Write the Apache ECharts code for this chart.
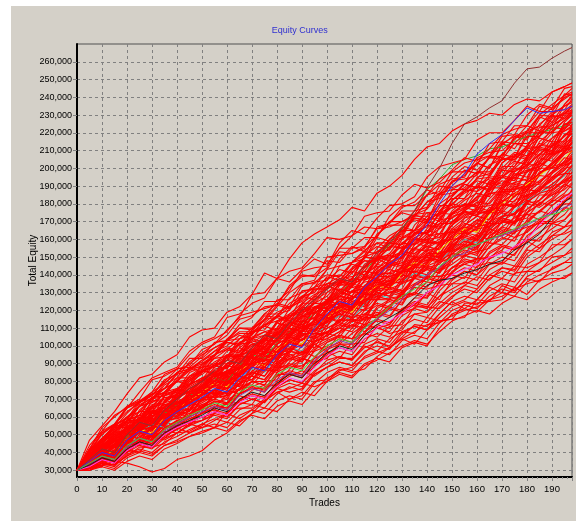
<!DOCTYPE html>
<html><head><meta charset="utf-8">
<script src="https://cdn.jsdelivr.net/npm/echarts@6/dist/echarts.min.js"></script>
<style>
html,body{margin:0;padding:0;background:#fff;width:576px;height:521px;overflow:hidden;}
#c{position:absolute;left:11px;top:6px;width:565px;height:515px;background:#d4d0c8;}
</style></head>
<body><div id="c"></div>
<script>
// trade numbers at which equity is sampled
const trades = [0,5,10,15,20,25,30,35,40,45,50,55,60,65,70,75,80,85,90,95,100,105,110,115,120,125,130,135,140,145,150,155,160,165,170,175,180,185,190,195,198];
const xTickLabels = [0,10,20,30,40,50,60,70,80,90,100,110,120,130,140,150,160,170,180,190];
const yTickValues = [30000,40000,50000,60000,70000,80000,90000,100000,110000,120000,130000,140000,150000,160000,170000,180000,190000,200000,210000,220000,230000,240000,250000,260000];

// equity in thousands, one row per simulated curve (red), first group
const redCurves = [
[30,38,44,53,57,66,69,78,82,91,96,101,109,116,129,141,138,149,158,163,167,171,178,176,186,190,196,205,212,214,221,225,227,231,230,236,239,238,243,246,248],
[30,47,55,63,73,82,84,91,95,105,109,110,119,122,129,130,138,136,143,149,146,155,162,167,166,169,178,181,188,185,195,201,199,206,207,217,220,220,230,228,232],
[30,41,51,55,65,68,72,80,87,88,94,102,103,112,116,125,125,131,142,144,145,158,165,163,172,179,180,184,195,201,203,205,216,220,220,227,235,232,243,246,248],
[30,42,54,60,66,70,81,83,87,95,101,104,108,117,119,121,123,133,139,140,148,147,155,161,161,173,179,179,185,187,198,203,205,207,218,219,230,236,234,245,246],
[30,41,47,54,58,68,73,76,84,86,89,95,104,110,110,114,122,130,135,135,143,153,152,155,167,169,176,176,185,194,198,198,202,214,215,224,224,232,232,241,243],
[30,42,52,56,66,69,74,84,87,89,98,101,106,115,117,122,123,134,140,139,144,155,155,156,162,170,175,173,181,183,193,194,196,207,206,218,221,224,232,233,239],
[30,38,47,54,58,61,71,74,82,82,87,95,98,104,106,115,116,127,130,133,143,145,147,151,163,168,168,176,178,190,189,192,203,207,215,214,221,230,229,242,241],
[30,39,47,51,60,63,66,74,80,81,86,93,94,104,108,117,116,122,134,136,137,149,156,153,162,170,170,174,185,191,194,195,206,209,210,216,224,221,231,235,237],
[30,42,47,54,62,69,70,79,85,87,91,97,103,104,110,118,124,122,125,132,132,145,147,149,161,159,162,174,177,185,186,189,197,206,205,214,214,218,229,230,235],
[30,37,46,50,58,58,65,71,71,78,85,89,92,95,104,112,114,116,123,133,135,136,147,153,152,160,163,174,175,176,184,192,198,198,205,206,218,218,228,231,233],
[30,40,47,56,59,66,73,73,80,88,88,95,102,101,109,115,123,121,126,136,140,139,147,154,158,158,161,173,173,179,179,187,194,195,206,204,213,220,220,231,231],
[30,37,43,50,52,59,66,67,69,77,81,83,94,95,100,103,114,118,119,127,135,135,138,150,153,154,164,172,171,175,184,191,189,196,205,207,210,221,220,227,230],
[30,41,47,52,60,66,68,73,75,85,88,89,97,101,108,109,117,114,122,128,126,135,143,148,148,152,161,165,173,170,182,188,187,195,196,207,212,212,223,222,228],
[30,37,47,52,56,59,69,70,73,81,86,89,93,102,105,108,110,121,128,130,139,137,144,150,149,160,165,165,171,172,182,187,189,190,201,201,212,217,215,225,226],
[30,42,48,55,59,69,73,76,85,87,90,95,103,108,108,111,117,124,128,126,133,138,139,142,153,158,157,163,164,175,174,177,187,191,199,198,204,213,212,225,224],
[30,38,41,47,54,60,60,68,73,74,77,84,90,91,97,106,113,111,116,124,124,136,142,140,148,156,155,159,170,175,178,179,191,194,195,201,210,207,217,221,223],
[30,39,47,49,58,61,65,74,76,78,86,88,92,101,102,106,106,116,122,120,125,136,135,138,150,151,158,157,166,174,178,179,182,193,195,203,203,211,210,219,221],
[30,37,41,45,52,58,58,63,64,73,76,78,86,90,97,99,108,106,115,122,121,134,135,138,149,146,150,161,164,171,172,176,183,193,191,200,200,204,215,215,220],
[30,38,43,51,53,59,67,68,70,78,82,84,95,95,101,103,114,117,118,125,134,131,138,145,149,149,152,164,163,169,169,177,184,185,195,193,201,208,208,219,219],
[30,35,43,47,54,54,60,66,66,73,79,83,85,88,96,104,105,106,113,122,123,129,136,142,141,145,154,158,165,163,174,180,179,186,187,198,202,202,213,211,217],
[30,38,48,53,58,61,71,72,75,83,88,90,94,102,104,106,108,118,124,124,132,137,137,138,143,151,156,154,162,163,173,175,176,186,185,196,199,201,209,210,215],
[30,35,39,47,48,54,60,60,65,72,72,78,85,84,91,97,105,103,108,119,122,124,126,137,140,141,151,158,156,160,168,176,173,181,189,192,194,206,204,212,214],
[30,35,44,50,53,56,65,68,75,74,80,87,88,93,94,103,103,113,114,116,126,123,134,139,138,146,148,160,160,161,168,176,181,180,188,188,199,199,208,210,212],
[30,38,42,48,51,59,63,65,73,74,76,82,90,95,96,99,107,114,118,118,125,127,134,139,138,149,153,152,158,158,168,174,175,176,187,187,198,203,200,210,211],
[30,38,41,48,50,55,63,63,69,69,78,80,86,87,96,97,104,110,108,114,121,122,131,132,134,145,147,149,158,158,160,172,174,176,187,184,193,200,200,208,210],
[30,36,45,52,57,59,63,72,74,79,81,90,90,95,97,106,105,111,119,122,119,132,130,133,141,147,152,150,157,163,164,167,178,179,181,190,188,198,200,202,207],
[30,32,40,43,50,51,53,61,62,70,69,75,79,86,85,94,95,98,110,112,113,123,122,129,137,135,142,150,150,158,166,164,170,178,177,188,190,191,201,203,206],
[30,39,43,46,53,59,66,65,71,74,81,80,89,92,97,98,107,108,110,114,124,121,131,136,137,139,142,154,154,155,164,169,167,176,182,181,193,192,198,206,205],
[30,36,43,43,50,57,58,60,68,70,75,75,85,88,90,96,103,102,105,115,120,121,128,127,139,139,141,150,148,156,164,163,169,177,176,185,187,196,195,201,204],
[30,35,40,49,52,53,62,67,67,73,76,84,83,88,93,96,97,105,111,109,111,120,121,130,128,136,142,142,152,152,154,165,167,169,180,179,188,187,197,202,203],
[30,33,38,44,43,53,54,56,63,69,65,72,80,83,81,88,97,97,104,105,116,113,122,129,129,135,142,144,151,150,159,162,166,175,175,182,185,188,194,200,201],
[30,38,44,47,57,57,69,69,76,74,80,88,94,94,94,105,106,113,112,116,126,126,127,131,141,141,144,146,155,159,160,161,167,176,179,180,185,187,195,197,201],
[30,34,40,47,47,54,53,61,61,71,74,73,76,83,91,90,95,96,106,109,107,116,123,126,126,133,139,146,145,148,156,163,166,167,172,179,183,189,189,197,197],
[30,36,41,44,55,52,60,65,65,67,78,79,80,85,95,98,96,105,108,115,111,124,123,124,133,135,136,144,145,153,153,158,163,165,173,174,181,186,188,193,196],
[30,31,37,43,46,47,50,58,59,64,64,73,74,79,81,90,89,96,104,107,105,114,115,121,131,132,135,138,147,152,154,155,161,170,173,174,180,182,190,192,196],
[30,36,44,48,55,55,63,63,72,74,77,85,84,90,95,96,104,105,114,112,117,119,127,132,132,133,142,145,151,150,155,164,160,169,169,178,182,179,187,193,193],
[30,35,38,43,45,53,54,62,60,66,70,70,79,81,83,92,90,97,96,106,107,115,114,117,126,133,131,138,139,148,152,151,162,163,170,169,175,185,185,188,192],
[30,35,41,44,51,53,56,63,68,68,73,78,78,85,88,95,93,97,107,107,107,111,121,126,128,130,132,144,144,146,154,159,156,164,170,168,180,178,183,191,189],
[30,31,37,40,46,45,50,55,54,61,66,68,70,73,80,87,88,89,94,103,104,108,115,114,126,126,128,138,136,144,152,150,156,164,162,170,172,181,179,184,187],
[30,34,43,46,50,52,62,61,64,71,76,77,81,89,90,92,93,103,108,109,116,114,122,126,126,127,136,138,144,142,148,156,153,161,162,170,174,171,179,185,185],
[30,31,38,43,45,46,55,57,63,62,66,72,74,78,78,86,86,95,96,97,107,105,114,115,117,127,128,130,139,139,141,151,153,155,164,161,169,176,174,182,183],
[30,31,36,37,43,44,47,54,55,55,63,64,68,76,77,80,81,91,97,94,99,102,110,116,116,122,129,129,136,135,144,146,149,158,157,164,167,169,175,180,180],
[30,36,38,45,46,51,59,59,64,64,73,74,79,79,88,88,94,99,96,102,108,110,116,118,117,123,127,133,132,134,141,147,149,150,154,161,164,170,170,178,177],
[30,34,37,39,44,48,55,53,58,61,67,65,73,75,80,80,88,88,89,93,102,105,104,107,115,122,120,127,127,136,140,138,149,149,156,154,160,169,169,171,175],
[30,30,32,40,41,40,48,52,51,56,58,66,65,69,75,78,78,87,93,91,93,101,107,112,110,112,121,123,130,126,137,142,140,146,147,156,160,159,169,167,171],
[30,33,38,40,51,47,54,60,59,61,71,71,72,76,85,87,85,93,95,101,97,107,112,108,115,121,119,121,130,134,135,135,145,147,146,152,159,155,164,167,168],
[30,30,33,33,42,40,50,48,54,51,55,62,68,68,67,77,78,85,83,88,97,93,102,107,105,111,112,122,122,121,127,134,139,137,144,143,154,153,162,163,165],
[30,31,37,39,45,44,51,50,58,59,62,69,68,73,76,76,84,84,93,90,95,101,101,102,111,107,109,118,119,125,123,126,132,140,138,145,144,147,157,157,160],
[30,30,34,33,38,43,43,45,51,52,56,54,63,65,65,70,76,74,76,84,88,91,89,96,103,99,105,112,111,118,125,121,126,133,130,141,142,142,150,151,153],
[30,32,34,38,40,46,49,50,57,57,58,62,68,72,70,72,78,83,86,83,88,93,93,100,97,104,108,107,116,114,115,124,124,125,134,131,138,136,144,147,147],
[30,32,33,35,34,32,29,31,36,38,41,47,51,57,62,69,74,76,79,77,80,86,88,93,96,99,104,108,112,113,117,120,122,126,128,132,135,137,141,143,146],
[30,32,35,41,41,45,49,47,51,56,54,58,62,59,64,69,74,70,72,80,81,87,85,87,94,99,104,101,109,114,115,116,126,125,126,133,129,137,138,138,141],
[30,44,52,61,65,74,82,85,88,97,102,105,116,118,124,127,138,142,144,152,161,160,162,173,175,176,185,191,189,192,199,206,204,211,219,222,224,235,233,240,242],
[30,40,51,56,65,69,72,81,84,93,93,99,103,110,109,118,118,120,131,132,133,135,143,150,149,155,161,162,168,167,175,178,180,189,189,196,198,201,207,211,212],
[30,34,42,49,53,54,57,66,68,73,74,84,85,91,94,103,103,111,120,124,123,136,136,140,150,158,157,165,167,178,183,183,195,197,205,205,212,223,224,228,232],
[30,38,45,54,54,63,63,71,72,83,86,85,88,95,103,101,106,107,117,119,116,128,127,128,133,140,144,141,148,149,157,157,157,166,163,173,174,175,182,181,185],
[30,35,39,44,47,54,56,64,62,68,73,73,84,87,91,101,101,109,111,122,125,130,138,137,150,150,153,164,163,171,180,178,184,192,190,199,201,210,208,214,217],
[30,40,47,55,55,67,70,72,81,88,85,94,103,107,107,115,126,126,135,137,150,151,152,156,166,167,170,173,181,186,188,188,194,202,205,205,211,212,220,221,224]
];

// second group of red curves (thousands)
const redCurvesB = [
[30,39,42,50,48,57,64,62,71,80,86,84,92,99,96,105,113,110,121,128,137,143,141,150,158,155,166,174,171,182,192,199,197,206,214,211,221,229,226,236,241],
[30,38,45,51,58,63,70,76,80,87,92,97,100,106,104,113,119,122,127,131,135,139,146,144,155,162,166,172,170,185,190,197,203,200,213,219,217,230,236,241,245],
[30,35,41,46,50,56,60,66,70,75,80,86,84,95,101,99,110,116,113,126,130,134,141,148,146,160,167,165,178,186,192,196,203,200,214,218,216,228,234,239,242],
[30,38,42,49,53,60,57,69,75,81,85,91,95,92,108,112,117,115,128,133,138,140,137,151,156,154,165,171,169,180,185,191,189,201,208,206,220,224,222,236,240],
[30,34,40,45,43,54,60,64,62,74,78,82,89,87,98,104,110,108,118,124,128,135,133,144,151,157,155,168,175,173,188,192,198,196,208,214,212,225,230,235,238],
[30,39,46,52,50,64,70,74,80,78,90,93,98,96,107,111,116,113,124,129,132,137,135,146,150,148,160,165,163,176,180,186,190,188,203,209,207,220,226,232,236],
[30,36,34,45,50,48,58,63,68,66,76,82,86,84,96,101,107,104,116,121,125,131,128,140,146,144,155,161,159,172,178,183,190,187,200,207,205,218,225,231,235],
[30,36,43,41,54,58,56,69,73,78,82,80,90,95,93,103,107,110,108,119,122,129,134,132,146,151,149,163,170,168,182,187,193,191,203,208,206,218,224,229,233],
[30,37,44,48,46,59,65,63,74,80,84,89,87,99,104,102,113,117,121,119,130,136,134,144,150,148,158,163,168,166,176,182,186,184,199,204,202,215,221,227,231],
[30,35,39,37,49,53,51,62,66,64,74,79,82,80,92,96,94,106,109,114,118,122,120,134,138,136,150,155,153,167,172,178,176,188,195,193,207,214,212,226,230],
[30,37,41,47,45,56,62,60,71,76,80,85,83,94,98,96,108,112,110,121,126,129,135,133,144,148,146,157,161,166,170,175,173,187,193,191,205,211,209,224,228],
[30,34,39,37,47,51,56,54,64,69,72,78,76,87,91,97,95,106,111,109,120,126,131,129,142,147,145,157,163,161,175,180,178,190,196,194,206,212,210,222,226],
[30,38,45,43,56,61,59,72,76,82,86,89,87,97,101,99,109,113,111,121,124,128,133,131,142,146,144,155,159,157,168,173,178,176,190,197,195,208,214,212,225],
[30,35,38,36,47,51,49,58,63,61,70,75,79,77,88,93,91,102,106,104,115,121,125,123,136,141,139,151,156,154,166,172,177,175,188,195,193,206,212,218,223],
[30,36,40,38,50,55,53,64,69,67,78,83,86,84,95,99,97,108,112,110,120,125,128,126,138,143,141,152,156,154,165,170,176,174,186,192,190,204,210,216,221],
[30,36,41,39,49,54,58,56,67,71,75,80,85,83,94,99,97,108,113,111,122,125,123,133,137,135,145,149,147,158,162,168,173,171,185,191,189,203,209,215,220],
[30,37,43,48,46,58,63,61,73,78,82,85,89,87,96,100,98,107,110,108,118,123,121,131,135,133,143,147,152,150,160,166,171,169,183,189,187,201,207,213,218],
[30,34,32,42,46,44,53,57,55,64,68,72,77,75,86,90,88,99,104,102,112,117,122,120,132,138,136,148,153,151,163,168,173,171,184,190,188,201,206,212,216],
[30,36,40,45,43,54,59,57,68,73,77,81,79,89,93,91,101,105,103,113,116,120,125,123,133,137,135,145,150,148,158,164,162,175,180,178,192,197,203,209,214],
[30,35,40,38,48,52,50,61,65,63,73,78,83,81,92,97,95,107,111,109,121,124,122,132,136,134,144,148,146,156,160,165,171,169,181,186,184,197,202,208,212],
[30,37,43,41,52,57,55,66,71,76,80,83,81,90,94,92,101,105,103,110,114,118,116,126,130,128,138,142,140,150,155,160,158,170,175,173,186,192,198,204,210],
[30,34,39,37,46,50,48,58,62,60,70,75,80,78,89,94,92,104,109,107,118,121,119,130,134,132,142,145,150,148,157,162,160,172,176,174,188,193,198,203,208],
[30,33,37,35,44,48,46,54,58,56,66,70,75,73,84,88,86,97,101,99,110,114,118,116,127,131,129,140,144,142,152,157,155,167,172,170,183,189,195,201,206],
[30,36,42,40,51,56,54,64,68,72,76,80,78,87,91,89,99,103,101,110,113,117,115,124,128,126,136,140,138,147,150,156,154,166,171,169,182,188,193,199,204],
[30,35,39,37,47,51,49,59,63,67,71,74,72,81,85,83,93,97,95,104,108,112,117,115,126,130,128,139,143,141,153,157,155,166,171,169,181,186,191,197,202],
[30,41,50,56,63,68,74,79,85,90,95,99,102,100,107,111,109,116,120,118,125,128,126,133,136,134,141,144,149,147,155,159,157,167,172,170,182,186,191,196,200],
[30,33,37,35,43,47,45,53,57,61,65,69,67,76,80,78,88,93,91,102,106,110,114,112,122,126,124,135,139,137,148,153,151,162,167,165,177,182,188,193,198],
[30,36,41,39,49,54,52,62,66,70,74,77,75,84,88,86,95,99,97,107,110,113,111,120,124,122,131,135,133,142,146,151,149,160,165,163,175,180,186,191,196],
[30,34,38,36,46,50,48,57,61,65,69,72,70,79,83,81,90,94,92,101,104,108,112,110,121,125,123,134,138,136,150,154,152,162,166,164,175,180,185,190,194],
[30,33,36,34,42,46,44,51,55,59,62,66,64,73,77,75,85,89,87,98,102,106,104,114,118,116,126,130,128,139,144,148,146,156,161,159,171,176,181,186,191],
[30,36,41,46,44,54,58,56,64,68,72,75,73,82,85,83,91,95,93,102,106,110,108,116,119,117,126,129,127,136,140,144,142,152,156,154,165,170,175,181,188],
[30,34,38,36,45,49,47,56,60,64,67,70,68,76,80,78,87,90,88,97,100,104,102,111,114,112,121,125,123,133,142,146,144,153,157,155,166,171,176,181,185],
[30,32,36,34,41,45,43,50,53,57,60,63,61,70,73,71,80,84,82,91,98,101,99,108,112,110,119,123,121,131,138,142,140,149,153,151,162,167,172,177,182],
[30,34,37,35,44,48,46,53,57,60,64,67,65,73,76,74,83,86,84,93,96,99,97,106,110,108,117,121,119,128,135,139,137,146,150,148,159,164,169,174,179],
[30,36,41,39,49,53,51,59,63,67,70,73,71,79,83,81,89,93,91,99,103,106,104,112,115,113,120,124,122,128,132,136,134,143,147,145,155,161,166,171,176],
[30,32,35,33,40,44,42,48,51,55,58,61,59,67,70,68,77,81,79,89,94,97,95,104,107,105,114,118,116,124,130,134,132,140,144,142,152,157,162,167,172],
[30,33,37,35,43,47,45,51,54,58,62,64,62,69,72,70,77,81,79,86,90,94,92,101,104,102,111,115,113,122,128,132,130,138,142,140,150,155,160,164,168],
[30,31,34,32,39,42,40,46,49,53,56,59,57,64,67,65,73,77,75,84,88,91,89,97,100,98,107,111,109,118,125,128,126,134,138,136,146,150,155,160,164],
[30,33,36,34,41,45,43,49,53,57,60,62,60,67,70,68,76,79,77,85,92,94,92,99,102,100,108,111,109,116,122,125,123,131,135,133,142,147,151,156,160],
[30,31,33,31,37,40,38,44,47,51,54,56,54,61,64,62,69,72,70,79,85,88,86,94,97,95,103,106,104,113,120,123,121,128,132,130,139,143,147,151,155],
[30,31,32,30,35,38,36,42,45,49,52,54,52,58,61,59,66,69,67,75,82,85,83,90,93,91,99,102,100,110,118,121,119,126,130,128,136,140,143,147,150],
[30,31,34,33,38,41,39,44,46,49,51,54,57,55,62,65,63,70,74,72,80,84,82,89,92,96,100,103,101,108,114,117,120,118,124,128,126,132,136,139,141],
[30,40,48,55,60,66,71,76,80,86,92,95,99,97,104,108,106,113,117,115,124,128,126,134,138,136,145,149,154,152,162,167,165,175,180,178,190,197,203,209,214],
[30,38,36,44,50,55,53,62,68,66,75,80,85,83,90,95,100,98,108,113,117,121,126,124,134,139,137,147,152,157,161,166,164,175,181,186,190,197,203,210,218],
[30,34,40,45,50,48,57,62,60,68,74,79,77,85,90,95,93,102,107,105,114,119,124,122,131,135,140,138,146,151,156,161,159,168,173,178,184,190,197,204,210],
[30,37,42,40,48,54,59,57,64,70,75,73,81,86,91,89,97,102,100,109,114,118,116,125,130,128,136,141,145,143,152,157,162,160,170,175,180,188,194,199,205],
[30,35,42,47,45,55,60,65,63,72,78,84,82,91,97,95,104,110,108,118,124,130,128,137,142,147,145,155,160,158,170,176,174,183,190,196,202,208,213,218,222],
[30,39,44,49,47,56,61,59,67,72,77,82,80,88,92,97,95,103,107,105,114,118,122,120,128,132,130,139,143,141,150,155,160,158,167,172,177,182,188,194,200],
[30,33,38,43,41,51,56,54,63,68,73,78,76,84,89,94,92,101,106,104,115,120,118,127,132,137,135,145,150,148,158,164,169,167,178,184,190,196,202,209,215],
[30,36,41,39,47,52,57,55,63,68,73,71,78,83,81,89,94,92,100,104,108,112,110,118,123,121,130,134,138,136,144,149,147,156,160,165,170,176,182,189,195],
[30,36,43,48,46,57,62,67,65,75,81,86,84,94,99,104,102,111,117,115,126,132,130,140,145,143,154,160,158,169,174,180,178,189,195,200,206,212,217,223,228]
];

// a few curves drawn in other colours
const colorNames = ['blue','greenUpper','purple','magenta','black','greenLower','cyan','yellow','brown'];
const colorValues = ['#3030f0','#30b030','#8040b0','#ff40ff','#202020','#40d040','#30d0d0','#f0f000','#903030'];
const colorCurves = [
[30,35,40,38,47,52,50,58,63,67,71,76,74,82,88,86,95,101,99,110,118,125,123,133,139,146,151,160,168,180,190,197,208,214,219,227,234,231,232,233,235],
[30,36,42,40,49,55,53,62,67,72,76,82,80,89,95,93,102,108,113,118,124,130,136,142,150,157,166,176,188,194,202,205,207,211,212,215,218,220,222,224,226],
[30,33,38,36,43,48,46,52,56,60,63,66,64,72,76,74,81,85,83,92,98,103,101,110,115,120,126,134,140,144,150,152,157,160,162,165,168,172,175,178,180],
[30,32,36,34,41,45,43,50,54,57,60,63,61,68,72,70,77,82,80,88,94,99,97,104,110,114,118,124,130,134,140,143,146,150,152,156,160,168,176,183,186],
[30,33,37,35,42,46,44,51,55,58,61,65,63,70,74,72,79,84,82,90,96,100,98,106,112,116,120,127,134,137,138,141,143,146,148,154,158,163,172,181,184],
[30,34,38,36,44,48,46,53,57,61,64,68,66,74,78,76,84,88,86,94,100,104,102,110,116,122,128,132,136,145,150,155,157,160,163,166,169,172,174,176,178],
[30,35,40,44,42,51,56,54,62,67,71,76,74,82,87,85,94,99,97,106,112,117,115,124,129,127,136,141,139,148,154,160,158,166,172,176,182,186,190,196,200],
[30,36,41,39,48,53,51,60,65,69,74,79,77,86,91,89,98,103,101,110,116,121,119,128,134,132,141,147,145,154,160,166,164,174,180,185,191,196,201,206,210],
[30,36,42,40,50,57,55,64,70,76,80,86,92,90,99,106,104,113,120,126,132,138,136,145,152,158,166,176,189,200,214,225,229,234,238,248,256,257,262,266,268]
];
// colours drawn between the two red groups, and colours drawn above all red
const midColorIdx = [1,6,7];
const topColorIdx = [0,2,3,4,5,8];

function fmt(v){ return String(v).replace(/\B(?=(\d{3})+(?!\d))/g, ','); }
function toPoints(curve){ return trades.map((t,i)=>[t, curve[i]*1000]); }

function redSeries(c,k,tag){ return {name:tag+k,type:'line',data:toPoints(c),symbol:'none',silent:true,lineStyle:{color:'#ff0000',width:1.1},z:3}; }
function colorSeries(k){ return {name:colorNames[k],type:'line',data:toPoints(colorCurves[k]),symbol:'none',silent:true,lineStyle:{color:colorValues[k],width:1},z:3}; }

const series = [];
redCurvesB.forEach((c,k)=>series.push(redSeries(c,k,'b')));
midColorIdx.forEach(k=>series.push(colorSeries(k)));
redCurves.forEach((c,k)=>series.push(redSeries(c,k,'a')));
topColorIdx.forEach(k=>series.push(colorSeries(k)));

const FONT = "'Liberation Sans',Arial,sans-serif";
const chart = echarts.init(document.getElementById('c'), null, {renderer:'canvas'});
chart.setOption({
  animation:false,
  backgroundColor:'transparent',
  title:{text:'Equity Curves',left:283.7,top:15,textAlign:'center',
    textStyle:{color:'#3030d0',fontSize:9,fontWeight:'normal',fontFamily:FONT}},
  grid:{left:66,top:38,right:4,bottom:44,show:true,borderColor:'#505050',borderWidth:1,
    backgroundColor:'transparent',containLabel:false,outerBoundsMode:'none'},
  xAxis:{type:'value',min:0,max:198,interval:10,
    name:'Trades',nameLocation:'middle',nameGap:21,nameMoveOverlap:false,
    nameTextStyle:{color:'#000',fontSize:10,fontFamily:FONT},
    axisLine:{show:true,onZero:false,lineStyle:{color:'#000',width:2}},
    axisTick:{show:true,length:4,lineStyle:{color:'#808080'}},
    minorTick:{show:true,splitNumber:5,length:2,lineStyle:{color:'#909090'}},
    axisLabel:{color:'#000',fontSize:9.5,fontFamily:FONT,margin:7,
      formatter:v=>xTickLabels.indexOf(v)>=0?String(v):''},
    splitLine:{show:true,lineStyle:{color:'#808080',type:[3,3],width:1}}
  },
  yAxis:{type:'value',min:26200,max:270000,
    name:'Total Equity',nameLocation:'middle',nameGap:39,nameMoveOverlap:false,
    nameTextStyle:{color:'#000',fontSize:10,fontFamily:FONT},
    axisLine:{show:true,onZero:false,lineStyle:{color:'#000',width:2}},
    axisTick:{show:true,length:4,customValues:yTickValues,lineStyle:{color:'#808080'}},
    axisLabel:{color:'#000',fontSize:9,fontFamily:FONT,margin:5,customValues:yTickValues,formatter:v=>fmt(v)},
    splitLine:{show:true,lineStyle:{color:'#808080',type:[3,3],width:1}}
  },
  series:series
});
</script></body></html>
